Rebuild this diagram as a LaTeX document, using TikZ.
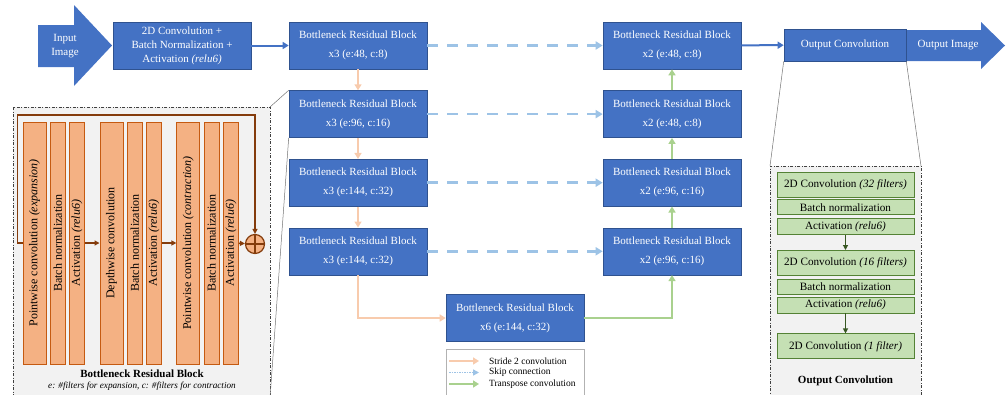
\documentclass[tikz,border=0pt]{standalone}
\usepackage{fontspec}
\setmainfont{Liberation Serif}
\usetikzlibrary{positioning, arrows.meta, calc}

\definecolor{blkblue}{HTML}{4472C4}
\definecolor{blkborder}{HTML}{2F528F}
\definecolor{barfill}{HTML}{F4B183}
\definecolor{bardraw}{HTML}{C55A11}
\definecolor{brownline}{HTML}{843C0C}
\definecolor{strideclr}{HTML}{F8CBAD}
\definecolor{skipclr}{HTML}{9DC3E6}
\definecolor{transclr}{HTML}{A9D18E}
\definecolor{gfill}{HTML}{C5E0B4}
\definecolor{gdraw}{HTML}{548235}
\definecolor{garrowclr}{HTML}{385723}
\definecolor{panelgray}{HTML}{F2F2F2}

\begin{document}
\begin{tikzpicture}[x=1pt, y=-1pt,
        blk/.style={rectangle, draw=blkborder, line width=0.6pt, fill=blkblue, text=white,
                    minimum width=138pt, minimum height=47pt, inner sep=0pt, align=center,
                    font=\fontsize{11}{19}\selectfont},
        panel/.style={rectangle, draw=black!75, fill=panelgray, line width=0.6pt, outer sep=0pt,
                      dash pattern=on 3pt off 1.5pt on 1pt off 1.5pt},
        bar/.style={rectangle, draw=bardraw, line width=0.8pt, fill=barfill, minimum height=242pt,
                    inner sep=0pt, font=\fontsize{12}{13}\selectfont},
        wbar/.style={bar, minimum width=23pt},
        nbar/.style={bar, minimum width=15pt},
        gbox/.style={rectangle, draw=gdraw, line width=0.8pt, fill=gfill, minimum width=137pt,
                     minimum height=16pt, inner sep=0pt, font=\fontsize{11.2}{12}\selectfont},
        sumnode/.style={circle, draw=brownline, line width=1.2pt, fill=barfill, minimum size=19pt,
                        inner sep=0pt, path picture={
                          \draw[brownline, line width=1.2pt]
                            (path picture bounding box.north) -- (path picture bounding box.south)
                            (path picture bounding box.west) -- (path picture bounding box.east);}},
        bluearrow/.style={-{Triangle[length=6pt, width=7pt]}, line width=2pt, draw=blkblue},
        stride/.style={-{Triangle[length=6pt, width=7pt]}, line width=2pt, draw=strideclr},
        skip/.style={-{Triangle[length=7pt, width=8pt]}, line width=2.5pt, draw=skipclr,
                     dash pattern=on 11pt off 9pt},
        trans/.style={-{Triangle[length=6pt, width=7pt]}, line width=2pt, draw=transclr},
        brarrow/.style={-{Triangle[length=5pt, width=5pt]}, line width=1.5pt, draw=brownline},
        garrow/.style={-{Triangle[length=5pt, width=5pt]}, line width=1.5pt, draw=garrowclr},
        funnel/.style={draw=black!55, line width=0.5pt}
    ]
        \useasboundingbox (0,0) rectangle (1006,394);
        \clip (0,0) rectangle (1006,394);

        % input / output arrows
        \fill[blkblue] (38,25) -- (74,25) -- (74,5) -- (112,45.5) -- (74,86) -- (74,67) -- (38,67) -- cycle;
        \node[text=white, align=center, font=\fontsize{11}{14}\selectfont] (input) at (65,46) {Input\\Image};
        \node[blk] (conv) at (182,45.5) {2D Convolution +\\[-5pt]Batch Normalization +\\[-5pt]Activation \textit{(relu6)}};

        % encoder
        \node[blk] (enc1) at (358,45.5) {Bottleneck Residual Block\\x3 (e:48, c:8)};
        \node[blk, below=21pt of enc1] (enc2) {Bottleneck Residual Block\\x3 (e:96, c:16)};
        \node[blk, below=21pt of enc2] (enc3) {Bottleneck Residual Block\\x3 (e:144, c:32)};
        \node[blk, below=21pt of enc3] (enc4) {Bottleneck Residual Block\\x3 (e:144, c:32)};
        \node[blk] (bott) at (515,318) {Bottleneck Residual Block\\x6 (e:144, c:32)};

        % decoder
        \node[blk] (dec1) at (672,45.5) {Bottleneck Residual Block\\x2 (e:48, c:8)};
        \node[blk, below=21pt of dec1] (dec2) {Bottleneck Residual Block\\x2 (e:48, c:8)};
        \node[blk, below=21pt of dec2] (dec3) {Bottleneck Residual Block\\x2 (e:96, c:16)};
        \node[blk, below=21pt of dec3] (dec4) {Bottleneck Residual Block\\x2 (e:96, c:16)};

        \node[blk, minimum width=122pt, minimum height=32pt] (outconv) at (845,45) {Output Convolution};
        \fill[blkblue] (907,30) -- (981,30) -- (981,22) -- (1005,45.5) -- (981,69) -- (981,61) -- (907,61) -- cycle;
        \node[text=white, font=\fontsize{11}{14}\selectfont] (output) at (948,45.5) {Output Image};

        \draw[bluearrow] (conv) -- (enc1);
        \draw[bluearrow] (dec1) -- (outconv);
        \draw[stride] (enc1) -- (enc2);
        \draw[stride] (enc2) -- (enc3);
        \draw[stride] (enc3) -- (enc4);
        \draw[stride] (enc4) |- (bott);
        \draw[trans] (bott) -| (dec4);
        \draw[trans] (dec4) -- (dec3);
        \draw[trans] (dec3) -- (dec2);
        \draw[trans] (dec2) -- (dec1);
        \draw[skip] (enc1) -- (dec1);
        \draw[skip] (enc2) -- (dec2);
        \draw[skip] (enc3) -- (dec3);
        \draw[skip] (enc4) -- (dec4);

        % legend
        \node[rectangle, draw=black!30, fill=white, line width=0.6pt, minimum width=138pt,
              minimum height=50pt] (legend) at (515,374) {};
        \coordinate (lg1) at (449,361);
        \coordinate (lg2) at (449,372.5);
        \coordinate (lg3) at (449,384);
        \draw[stride, line width=1.5pt] (lg1) -- ++(30,0) node[right=6pt, text=black, font=\fontsize{9.5}{10}\selectfont] (lgt1) {Stride 2 convolution};
        \draw[-{Triangle[length=6pt, width=6pt]}, draw=skipclr, line width=1.5pt, densely dotted] (lg2) -- ++(30,0) node[right=6pt, text=black, font=\fontsize{9.5}{10}\selectfont] (lgt2) {Skip connection};
        \draw[trans, line width=1.5pt] (lg3) -- ++(30,0) node[right=6pt, text=black, font=\fontsize{9.5}{10}\selectfont] (lgt3) {Transpose convolution};

        % bottleneck residual block detail
        \node[panel, minimum width=257pt, minimum height=291pt] (bbpanel) at (141.5,252.5) {};
        \draw[funnel] (bbpanel.north east) -- (enc2.north west);
        \draw[funnel] (bbpanel.south east) -- (enc2.south west);

        \node[wbar] (pw1) at (34.5,243) {\rotatebox{90}{Pointwise convolution \textit{(expansion)}}};
        \node[nbar, right=3.5pt of pw1] (bn1) {\rotatebox{90}{Batch normalization}};
        \node[nbar, right=3.5pt of bn1] (act1) {\rotatebox{90}{Activation \textit{(relu6)}}};
        \node[wbar, right=14.5pt of act1] (dw) {\rotatebox{90}{Depthwise convolution}};
        \node[nbar, right=3.5pt of dw] (bn2) {\rotatebox{90}{Batch normalization}};
        \node[nbar, right=3.5pt of bn2] (act2) {\rotatebox{90}{Activation \textit{(relu6)}}};
        \node[wbar, right=14.5pt of act2] (pw2) {\rotatebox{90}{Pointwise convolution \textit{(contraction)}}};
        \node[nbar, right=3.5pt of pw2] (bn3) {\rotatebox{90}{Batch normalization}};
        \node[nbar, right=3.5pt of bn3] (act3) {\rotatebox{90}{Activation \textit{(relu6)}}};
        \node[sumnode] (sum) at (255,244) {};
        \coordinate (skiptop) at (255,115);

        \draw[brarrow] (act1) -- (dw);
        \draw[brarrow] (act2) -- (pw2);
        \draw[brarrow] (act3) -- (sum);
        \draw[brarrow] (pw1.west) -- ++(-5,0) |- (skiptop) -- (sum);

        \node[font=\fontsize{11}{12}\selectfont\bfseries] (bbtitle) at (142,374) {Bottleneck Residual Block};
        \node[font=\fontsize{9.2}{10}\selectfont\itshape] (bbnote) at (142,386) {e: \#filters for expansion, c: \#filters for contraction};

        % output convolution detail
        \node[panel, minimum width=151pt, minimum height=232pt] (ocpanel) at (845.5,282) {};
        \draw[funnel] (outconv.south west) -- (ocpanel.north west);
        \draw[funnel] (outconv.south east) -- (ocpanel.north east);

        \node[gbox, minimum height=25pt] (oc1) at (845.5,184.5) {2D Convolution \textit{(32 filters)}};
        \node[gbox, minimum height=15pt, below=2pt of oc1] (obn1) {Batch normalization};
        \node[gbox, below=3pt of obn1] (oact1) {Activation \textit{(relu6)}};
        \node[gbox, minimum height=25pt, below=15pt of oact1] (oc2) {2D Convolution \textit{(16 filters)}};
        \node[gbox, minimum height=15pt, below=3pt of oc2] (obn2) {Batch normalization};
        \node[gbox, below=2pt of obn2] (oact2) {Activation \textit{(relu6)}};
        \node[gbox, minimum height=25pt, below=20pt of oact2] (oc3) {2D Convolution \textit{(1 filter)}};
        \draw[garrow] (oact1) -- (oc2);
        \draw[garrow] (oact2) -- (oc3);

        \node[font=\fontsize{11}{12}\selectfont\bfseries] (octitle) at (845.5,381) {Output Convolution};
    \end{tikzpicture}
\end{document}
